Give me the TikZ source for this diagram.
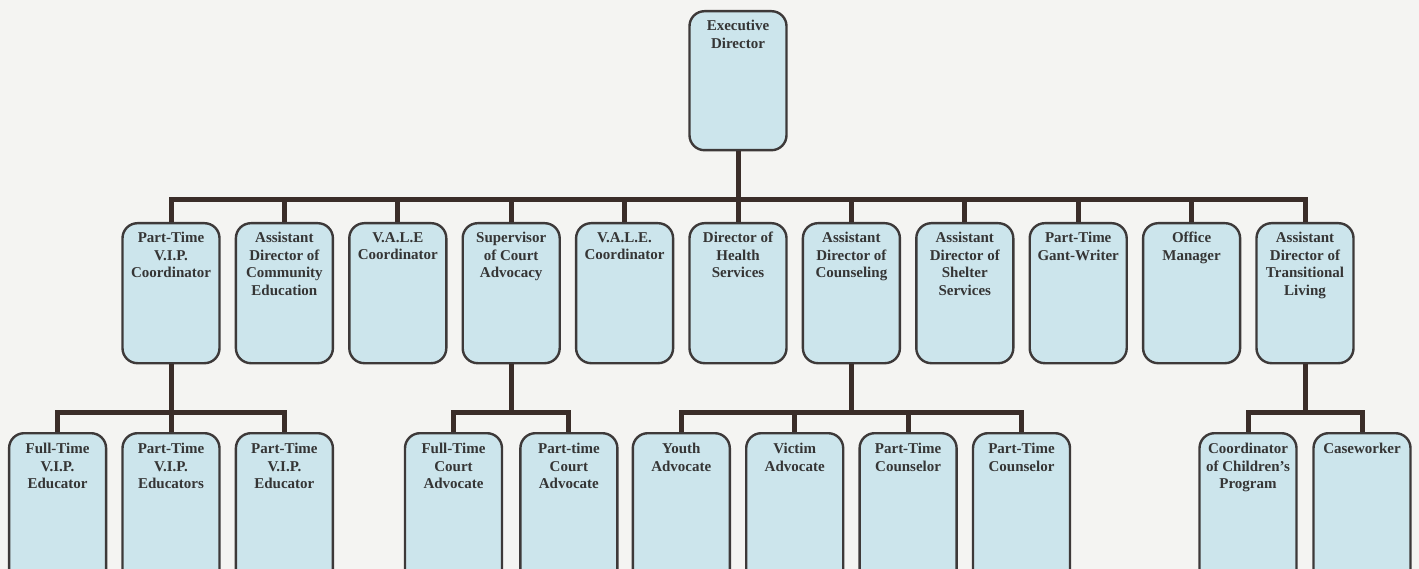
\documentclass[tikz,border=0pt]{standalone}
\usepackage{fontspec}
\setmainfont{Liberation Serif}
\definecolor{bgc}{HTML}{F4F4F2}
\definecolor{boxfill}{HTML}{CCE5EC}
\definecolor{boxline}{HTML}{3D3939}
\definecolor{linkc}{HTML}{3A2D29}
\definecolor{txtc}{HTML}{353535}
\newcommand{\bt}[1]{\parbox[c][128pt][t]{95pt}{\vspace*{3pt}\centering\fontsize{15}{17.5}\selectfont\bfseries #1}}
\newcommand{\btl}[1]{\parbox[c][138pt][t]{95pt}{\vspace*{3pt}\centering\fontsize{15}{17.5}\selectfont\bfseries #1}}
\tikzset{
  orgbox/.style={draw=boxline, line width=2.4pt, fill=boxfill, rounded corners=15pt,
    minimum width=97pt, minimum height=140pt, inner sep=0pt, text=txtc, anchor=north},
  lowbox/.style={orgbox, minimum height=152pt},
  link/.style={draw=linkc, line width=5pt}
}
\begin{document}
\begin{tikzpicture}[x=1pt,y=-1pt]
\fill[bgc] (0,0) rectangle (1419,569);
\useasboundingbox (0,0) rectangle (1419,569);
\clip (0,0) rectangle (1419,569);
% top
\node[orgbox, minimum height=139pt] (ed) at (738,10) {\parbox[c][127pt][t]{95pt}{\vspace*{3pt}\centering\fontsize{15}{17.5}\selectfont\bfseries Executive\\Director}};
% row 2
\node[orgbox] (a1) at (171,222) {\bt{Part-Time\\V.I.P.\\Coordinator}};
\node[orgbox] (a2) at (284.4,222) {\bt{Assistant\\Director of\\Community\\Education}};
\node[orgbox] (a3) at (397.8,222) {\bt{V.A.L.E\\Coordinator}};
\node[orgbox] (a4) at (511.2,222) {\bt{Supervisor\\of Court\\Advocacy}};
\node[orgbox] (a5) at (624.6,222) {\bt{V.A.L.E.\\Coordinator}};
\node[orgbox] (a6) at (738,222) {\bt{Director of\\Health\\Services}};
\node[orgbox] (a7) at (851.4,222) {\bt{Assistant\\Director of\\Counseling}};
\node[orgbox] (a8) at (964.8,222) {\bt{Assistant\\Director of\\Shelter\\Services}};
\node[orgbox] (a9) at (1078.2,222) {\bt{Part-Time\\Gant-Writer}};
\node[orgbox] (a10) at (1191.6,222) {\bt{Office\\Manager}};
\node[orgbox] (a11) at (1305,222) {\bt{Assistant\\Director of\\Transitional\\Living}};
% row 3
\node[lowbox] (b1) at (57.6,432) {\btl{Full-Time\\V.I.P.\\Educator}};
\node[lowbox] (b2) at (171,432) {\btl{Part-Time\\V.I.P.\\Educators}};
\node[lowbox] (b3) at (284.4,432) {\btl{Part-Time\\V.I.P.\\Educator}};
\node[lowbox] (c1) at (453.5,432) {\btl{Full-Time\\Court\\Advocate}};
\node[lowbox] (c2) at (568.9,432) {\btl{Part-time\\Court\\Advocate}};
\node[lowbox] (d1) at (681.3,432) {\btl{Youth\\Advocate}};
\node[lowbox] (d2) at (794.7,432) {\btl{Victim\\Advocate}};
\node[lowbox] (d3) at (908.1,432) {\btl{Part-Time\\Counselor}};
\node[lowbox] (d4) at (1021.5,432) {\btl{Part-Time\\Counselor}};
\node[lowbox] (e1) at (1248,432) {\btl{Coordinator\\of Children's\\Program}};
\node[lowbox] (e2) at (1362,432) {\btl{Caseworker}};
% connectors
\foreach \c in {a1,a2,a3,a4,a5,a6,a7,a8,a9,a10,a11}
  \draw[link] (ed.south) -- ++(0,48) -| (\c.north);
\foreach \c in {b1,b2,b3}
  \draw[link] (a1.south) -- ++(0,48) -| (\c.north);
\foreach \c in {c1,c2}
  \draw[link] (a4.south) -- ++(0,48) -| (\c.north);
\foreach \c in {d1,d2,d3,d4}
  \draw[link] (a7.south) -- ++(0,48) -| (\c.north);
\foreach \c in {e1,e2}
  \draw[link] (a11.south) -- ++(0,48) -| (\c.north);
\end{tikzpicture}
\end{document}
